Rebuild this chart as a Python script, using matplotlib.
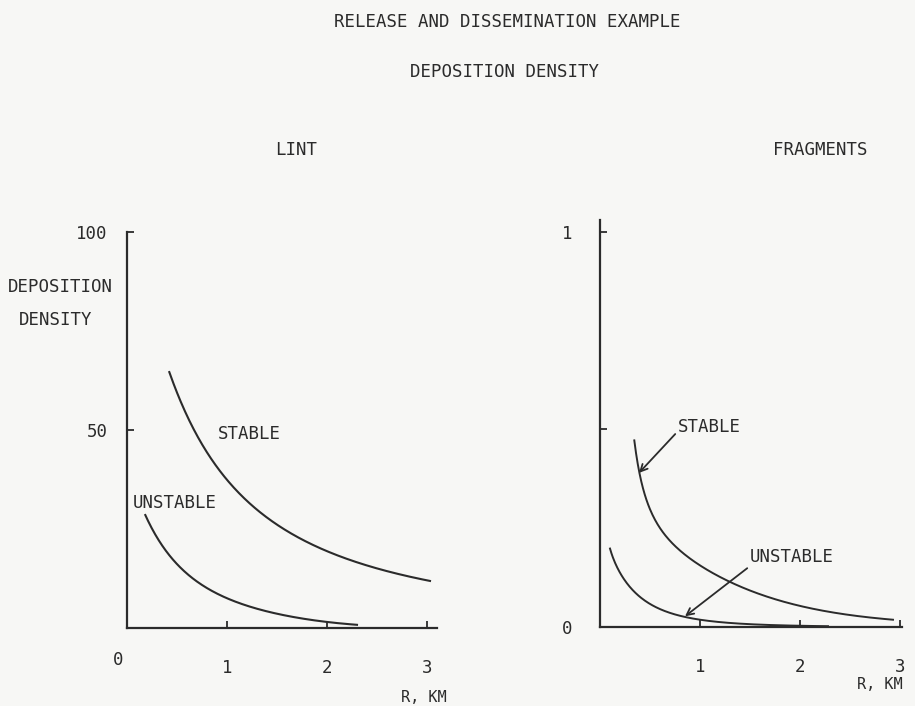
import numpy as np
import matplotlib
matplotlib.use('Agg')
import matplotlib.pyplot as plt

plt.rcParams['font.family'] = ['DejaVu Sans Mono']

# LINT panel (deposition density vs R, km)
lint_stable_r = [0.423, 0.667, 0.90, 1.233, 1.60, 2.0, 2.56, 3.03]
lint_stable_d = [64.5, 50.8, 39.9, 31.5, 24.7, 19.3, 14.6, 11.9]
lint_unstable_r = [0.183, 0.333, 0.567, 0.90, 1.333, 1.867, 2.30]
lint_unstable_d = [28.5, 21.4, 14.6, 8.8, 4.5, 2.0, 0.8]

# FRAGMENTS panel
frag_stable_r = [0.343, 0.383, 0.467, 0.60, 0.833, 1.267, 1.567, 1.87, 2.53, 2.93]
frag_stable_d = [0.476, 0.397, 0.322, 0.254, 0.187, 0.115, 0.085, 0.063, 0.030, 0.018]
frag_unstable_r = [0.10, 0.20, 0.40, 0.667, 1.0, 1.5, 1.87, 2.28]
frag_unstable_d = [0.199, 0.136, 0.077, 0.039, 0.018, 0.007, 0.004, 0.002]

lint_yticks = [50, 100]
frag_yticks = [0, 0.5, 1]
frag_ylabels = ['0', '', '1']
x_ticks = [1, 2, 3]

bg = '#f7f7f5'
ink = '#2b2b2b'
fs = 12.5


def smooth(x, y, n=300, deg=3, logx=True):
    # smooth curve through the read points (cubic fit of log(y))
    x = np.asarray(x, float)
    fx = np.log(x) if logx else x
    ly = np.log(np.asarray(y, float))
    c = np.polyfit(fx, ly, deg)
    xs = np.linspace(x[0], x[-1], n)
    fxs = np.log(xs) if logx else xs
    return xs, np.exp(np.polyval(c, fxs))


def style(ax):
    ax.set_facecolor(bg)
    for s in ['top', 'right']:
        ax.spines[s].set_visible(False)
    for s in ['left', 'bottom']:
        ax.spines[s].set_color(ink)
        ax.spines[s].set_linewidth(1.6)
    ax.tick_params(direction='in', length=5, width=1.3, color=ink,
                   labelcolor=ink, labelsize=fs)


fig = plt.figure(figsize=(9.15, 7.06), dpi=100)
fig.patch.set_facecolor(bg)

ax1 = fig.add_axes([127 / 915, 78 / 706, 310 / 915, 396 / 706])
ax2 = fig.add_axes([600 / 915, 79 / 706, 302 / 915, 407 / 706])

# left panel
style(ax1)
ax1.plot(*smooth(lint_stable_r, lint_stable_d), color=ink, lw=1.5)
ax1.plot(*smooth(lint_unstable_r, lint_unstable_d, logx=False), color=ink, lw=1.5)
ax1.set_xlim(0, 3.1)
ax1.set_ylim(0, 100)
ax1.set_xticks(x_ticks)
ax1.set_yticks(lint_yticks)
ax1.tick_params(axis='x', pad=22)
ax1.tick_params(axis='y', pad=14)
ax1.text(-0.09, -8, '0', fontsize=fs, color=ink, ha='center', va='center')
ax1.text(0.91, 49, 'STABLE', fontsize=fs, color=ink, va='center')
ax1.text(0.06, 31.5, 'UNSTABLE', fontsize=fs, color=ink, va='center')
ax1.text(3.2, -17.5, 'R, KM', fontsize=fs - 1.5, color=ink, ha='right', va='center')

# right panel
style(ax2)
ax2.plot(*smooth(frag_stable_r, frag_stable_d), color=ink, lw=1.4)
ax2.plot(*smooth(frag_unstable_r, frag_unstable_d), color=ink, lw=1.4)
ax2.set_xlim(0, 3.02)
ax2.set_ylim(0, 1.03)
ax2.set_xticks(x_ticks)
ax2.set_yticks(frag_yticks)
ax2.set_yticklabels(frag_ylabels)
ax2.tick_params(axis='x', pad=22)
ax2.tick_params(axis='y', pad=20)
ax2.annotate('STABLE', xy=(0.39, 0.39), xytext=(0.78, 0.505), fontsize=fs,
             color=ink, va='center',
             arrowprops=dict(arrowstyle='->', color=ink, lw=1.3,
                             shrinkA=0, shrinkB=0, relpos=(0, 0.3)))
ax2.annotate('UNSTABLE', xy=(0.85, 0.027), xytext=(1.50, 0.177), fontsize=fs,
             color=ink, va='center',
             arrowprops=dict(arrowstyle='->', color=ink, lw=1.3,
                             shrinkA=0, shrinkB=0, relpos=(0, 0.0)))
ax2.text(3.03, -0.145, 'R, KM', fontsize=fs - 1.5, color=ink, ha='right', va='center')

# titles and headings
fig.text(507 / 915, 1 - 22 / 706, 'RELEASE AND DISSEMINATION EXAMPLE',
         fontsize=fs, color=ink, ha='center', va='center')
fig.text(504 / 915, 1 - 72 / 706, 'DEPOSITION DENSITY',
         fontsize=fs, color=ink, ha='center', va='center')
fig.text(296 / 915, 1 - 150 / 706, 'LINT', fontsize=fs, color=ink,
         ha='center', va='center')
fig.text(820 / 915, 1 - 150 / 706, 'FRAGMENTS', fontsize=fs, color=ink,
         ha='center', va='center')
fig.text(60 / 915, 1 - 287 / 706, 'DEPOSITION', fontsize=fs, color=ink,
         ha='center', va='center')
fig.text(56 / 915, 1 - 320 / 706, 'DENSITY', fontsize=fs, color=ink,
         ha='center', va='center')

fig.savefig('out.png', dpi=100, facecolor=bg)
